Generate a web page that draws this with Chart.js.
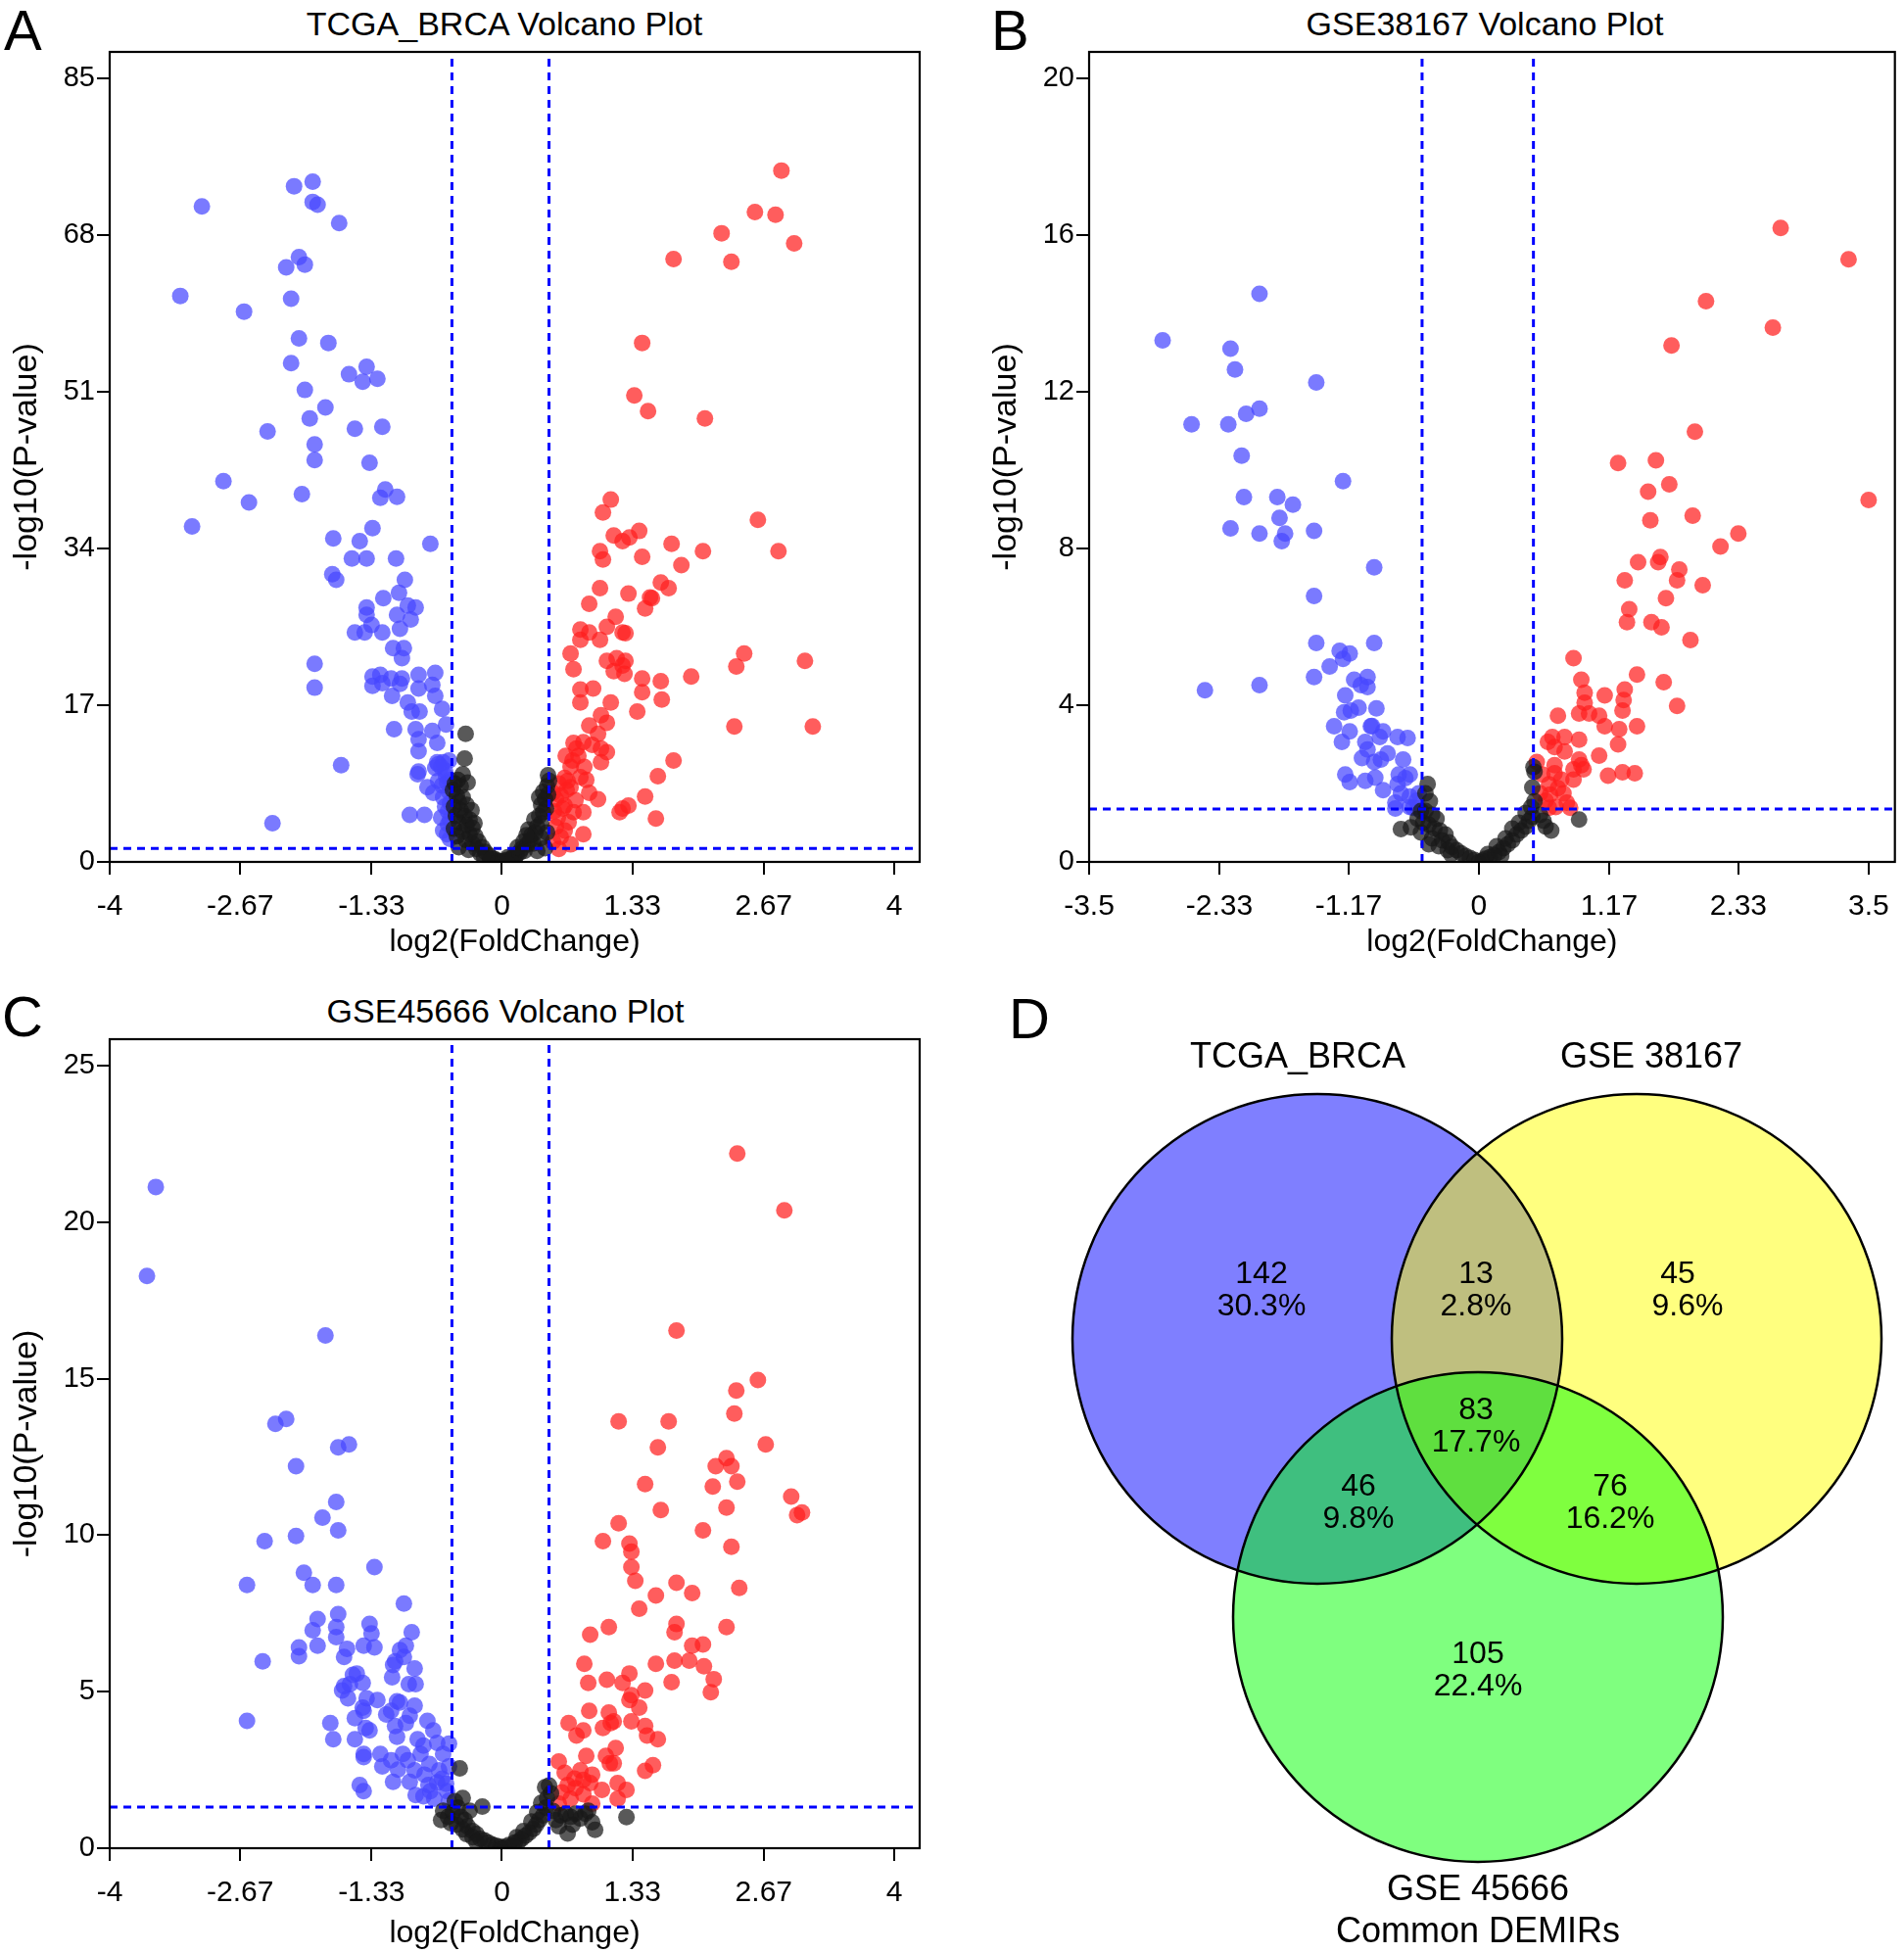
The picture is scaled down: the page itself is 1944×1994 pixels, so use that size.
<!DOCTYPE html>
<html><head><meta charset="utf-8">
<script src="https://cdn.jsdelivr.net/npm/chart.js@4/dist/chart.umd.min.js"></script>
<style>
html,body{margin:0;padding:0;background:#fff}
body{width:1944px;height:1994px;position:relative;overflow:hidden;font-family:"Liberation Sans",Arial,sans-serif;color:#000}
canvas{position:absolute;display:block}
.letter{position:absolute;font-size:58px;line-height:1;transform:translateY(-50%)}
.ttl{position:absolute;font-size:34px;line-height:1;white-space:nowrap;transform:translate(-50%,-50%)}
</style></head>
<body>
<div class="letter" style="left:4px;top:31px">A</div>
<div class="letter" style="left:1012px;top:31px">B</div>
<div class="letter" style="left:2px;top:1038px">C</div>
<div class="letter" style="left:1030px;top:1040px">D</div>
<div class="ttl" style="left:515px;top:24px">TCGA_BRCA Volcano Plot</div>
<div class="ttl" style="left:1516px;top:24px">GSE38167 Volcano Plot</div>
<div class="ttl" style="left:516px;top:1032px">GSE45666 Volcano Plot</div>
<canvas id="cA" width="972" height="1000" style="left:0;top:0"></canvas>
<canvas id="cB" width="972" height="1000" style="left:972px;top:0"></canvas>
<canvas id="cC" width="972" height="994" style="left:0;top:1000px"></canvas>
<canvas id="cD" width="972" height="994" style="left:972px;top:1000px"></canvas>
<script>
// ---------------- DATA ----------------
// Tick labels
const xTicksAC = [-4, -2.67, -1.33, 0, 1.33, 2.67, 4];
const xTicksB  = [-3.5, -2.33, -1.17, 0, 1.17, 2.33, 3.5];
const yTicksA  = [0, 17, 34, 51, 68, 85];
const yTicksB  = [0, 4, 8, 12, 16, 20];
const yTicksC  = [0, 5, 10, 15, 20, 25];
// Axis ranges [min,max]
const xRangeA = [-4, 4.26],   yRangeA = [0, 87.87];
const xRangeB = [-3.5, 3.736], yRangeB = [0, 20.675];
const xRangeC = [-4, 4.26],   yRangeC = [0, 25.84];
// Thresholds [log2FC low, log2FC high, -log10 P cut]
const cutA = [-0.51, 0.48, 1.45];
const cutB = [-0.51, 0.49, 1.35];
const cutC = [-0.51, 0.48, 1.31];

// TCGA_BRCA  [log2FC, -log10P]
const tcgaDown = [[-3.28,61.4],[-3.06,71.1],[-3.16,36.4],[-2.84,41.3],[-2.58,39.0],[-2.63,59.7],[-2.39,46.7],[-2.34,4.2],[-2.12,73.3],[-1.93,73.8],[-1.93,71.6],[-1.88,71.3],[-1.66,69.3],[-2.07,65.6],[-2.20,64.5],[-2.01,64.8],[-2.15,61.1],[-2.07,56.8],[-1.77,56.3],[-2.15,54.1],[-2.01,51.2],[-1.96,48.1],[-1.80,49.3],[-1.91,45.3],[-1.91,43.6],[-2.04,39.9],[-1.56,52.9],[-1.38,53.7],[-1.42,52.1],[-1.27,52.4],[-1.50,47.0],[-1.22,47.2],[-1.35,43.3],[-1.19,40.4],[-1.24,39.5],[-1.07,39.6],[-1.72,35.1],[-1.45,34.8],[-1.32,36.2],[-1.53,32.9],[-1.38,32.9],[-1.73,31.2],[-1.69,30.6],[-0.73,34.5],[-1.08,32.9],[-1.05,29.2],[-0.99,30.6],[-1.38,27.6],[-1.21,28.6],[-1.38,26.8],[-1.33,25.7],[-1.50,24.9],[-1.40,24.9],[-1.22,24.9],[-1.07,26.8],[-0.96,27.8],[-0.88,27.6],[-0.93,26.3],[-1.04,25.3],[-1.11,23.2],[-1.00,23.2],[-1.02,22.1],[-1.91,21.5],[-1.91,18.9],[-1.32,20.1],[-1.24,20.3],[-1.13,19.9],[-1.02,19.9],[-0.85,20.3],[-0.68,20.5],[-1.32,19.1],[-1.22,19.4],[-1.04,19.3],[-0.85,18.8],[-0.71,19.2],[-1.12,18.0],[-0.96,17.3],[-0.68,18.0],[-0.61,16.6],[-0.92,16.3],[-0.84,16.3],[-1.10,14.4],[-0.88,14.4],[-0.71,14.2],[-0.57,14.9],[-0.85,13.3],[-0.66,12.9],[-0.85,12.0],[-0.66,10.8],[-0.60,10.8],[-0.54,11.0],[-0.68,10.2],[-0.85,9.8],[-0.86,9.5],[-0.57,9.3],[-0.53,8.9],[-0.76,8.1],[-0.61,8.3],[-0.54,7.6],[-0.53,6.4],[-0.94,5.1],[-0.79,5.1],[-0.53,4.6],[-0.55,4.1],[-0.60,3.4],[-1.64,10.5],[-0.62,10.3],[-0.58,9.9],[-0.65,10.6],[-0.56,8.6],[-0.60,7.0],[-0.55,5.5],[-0.58,6.0],[-0.65,8.8],[-0.70,7.5],[-0.62,4.8],[-0.56,3.0],[-0.53,2.5]];
const tcgaUp = [[2.85,75.0],[2.58,70.5],[2.79,70.2],[2.98,67.1],[2.24,68.2],[2.34,65.1],[1.75,65.4],[1.43,56.3],[1.35,50.6],[1.49,48.9],[2.07,48.1],[1.11,39.3],[1.03,37.9],[2.61,37.1],[2.82,33.7],[1.14,35.4],[1.23,34.8],[1.30,35.2],[1.40,35.9],[1.00,33.7],[1.03,32.8],[1.43,33.1],[1.73,34.5],[2.05,33.7],[1.83,32.2],[1.00,29.7],[1.29,29.1],[1.62,30.3],[1.51,28.7],[1.70,29.7],[1.53,28.6],[1.46,27.5],[0.89,28.0],[1.16,26.6],[0.80,25.2],[0.89,24.9],[1.07,25.5],[0.80,24.1],[1.00,24.1],[1.23,24.9],[1.26,24.8],[0.70,22.6],[1.07,21.8],[1.17,22.1],[1.26,21.8],[2.47,22.6],[2.39,21.2],[3.09,21.8],[1.93,20.1],[0.73,20.9],[1.23,21.3],[1.14,20.7],[1.25,20.4],[1.43,19.9],[1.62,19.6],[0.80,18.7],[0.93,18.8],[1.43,18.4],[1.63,17.6],[0.80,17.3],[1.11,17.3],[1.38,16.3],[1.01,15.9],[0.89,14.8],[0.98,13.9],[1.07,15.1],[2.37,14.7],[3.17,14.7],[0.83,13.0],[0.73,12.9],[0.92,12.7],[1.01,12.3],[0.65,11.5],[0.78,11.5],[1.07,11.9],[1.75,11.0],[1.01,10.8],[0.84,10.3],[0.70,10.3],[0.64,9.1],[0.58,8.5],[0.70,8.1],[0.86,8.9],[0.89,7.5],[0.98,6.8],[1.59,9.3],[1.46,7.1],[1.29,6.1],[1.20,5.4],[1.23,5.8],[0.64,6.1],[0.73,5.4],[0.83,5.4],[0.64,3.4],[0.83,3.0],[0.70,1.9],[0.58,1.4],[1.57,4.7],[0.52,7.5],[0.55,6.8],[0.60,7.2],[0.53,5.5],[0.57,4.8],[0.62,5.8],[0.66,7.8],[0.55,3.8],[0.60,2.7],[0.68,4.3],[0.52,2.2],[0.75,6.7],[0.80,9.2],[0.67,8.8],[0.72,11.0],[0.76,12.3]];
const tcgaNs = [[-0.37,13.9],[-0.38,11.2],[-0.45,8.9],[-0.48,8.5],[-0.42,8.2],[-0.50,7.8],[-0.46,7.2],[-0.40,7.0],[-0.44,6.5],[-0.49,6.0],[-0.36,6.2],[-0.42,5.6],[-0.47,5.0],[-0.38,5.0],[-0.33,4.6],[-0.44,4.3],[-0.36,4.0],[-0.49,3.6],[-0.30,3.7],[-0.40,3.3],[-0.33,3.0],[-0.46,2.8],[-0.27,2.8],[-0.37,2.4],[-0.24,2.2],[-0.30,2.0],[-0.44,1.6],[-0.20,1.6],[-0.26,1.4],[-0.34,1.3],[-0.17,1.1],[-0.22,0.9],[-0.13,0.7],[-0.18,0.5],[-0.10,0.4],[-0.07,0.3],[-0.12,0.2],[-0.04,0.1],[-0.02,0.05],[0.00,0.0],[0.02,0.1],[0.05,0.2],[0.08,0.1],[0.10,0.4],[0.13,0.3],[0.06,0.5],[0.15,0.8],[0.12,0.6],[0.18,1.0],[0.20,1.4],[0.23,1.2],[0.16,1.6],[0.26,1.9],[0.22,2.2],[0.29,2.4],[0.32,2.0],[0.30,2.9],[0.34,3.2],[0.27,3.5],[0.36,3.8],[0.40,4.2],[0.33,4.6],[0.38,5.0],[0.42,5.4],[0.45,5.8],[0.40,6.2],[0.44,6.8],[0.47,7.3],[0.42,7.6],[0.46,8.2],[0.48,8.8],[0.47,9.4],[0.44,1.5],[0.36,1.2],[0.40,2.6],[0.46,3.2],[-0.35,8.6],[-0.40,9.5],[-0.31,5.6],[-0.28,4.2],[0.25,2.9],[0.38,7.0]];

// GSE38167
const gse38Down = [[-2.84,13.31],[-2.58,11.17],[-2.46,4.38],[-2.25,11.17],[-2.23,13.10],[-2.19,12.57],[-2.09,11.44],[-1.97,14.50],[-1.97,11.57],[-2.13,10.37],[-2.11,9.31],[-1.81,9.31],[-1.67,9.12],[-1.79,8.78],[-2.23,8.51],[-1.97,8.38],[-1.74,8.38],[-1.77,8.19],[-1.48,8.45],[-1.97,4.51],[-1.46,12.24],[-1.22,9.72],[-0.94,7.52],[-1.48,6.79],[-1.46,5.59],[-0.94,5.59],[-1.25,5.39],[-1.16,5.32],[-1.22,5.18],[-1.34,4.99],[-1.48,4.72],[-1.12,4.65],[-1.00,4.72],[-1.06,4.51],[-1.00,4.46],[-1.20,4.25],[-0.92,3.92],[-1.21,3.82],[-1.15,3.86],[-1.08,3.94],[-1.30,3.46],[-0.97,3.46],[-0.96,3.47],[-0.86,3.33],[-1.16,3.33],[-0.73,3.19],[-0.64,3.16],[-1.23,3.06],[-1.02,3.06],[-0.89,3.19],[-1.00,2.87],[-0.82,2.77],[-0.88,2.61],[-1.05,2.65],[-0.94,2.55],[-0.68,2.61],[-1.20,2.23],[-1.16,2.04],[-1.02,2.07],[-0.93,2.15],[-0.72,2.23],[-0.66,2.14],[-0.62,2.23],[-0.73,1.99],[-0.86,1.83],[-0.70,1.75],[-0.62,1.67],[-0.75,1.51],[-0.62,1.40],[-0.56,1.56],[-0.75,1.36],[-0.59,1.38],[-0.54,1.75],[-0.55,1.36]];
const gse38Up = [[2.71,16.18],[3.32,15.38],[2.04,14.31],[2.64,13.64],[1.73,13.18],[1.94,10.98],[1.25,10.18],[1.59,10.25],[1.71,9.64],[1.52,9.45],[3.50,9.24],[1.92,8.84],[1.54,8.72],[2.33,8.38],[2.17,8.05],[1.63,7.78],[1.61,7.65],[1.43,7.65],[1.80,7.46],[1.31,7.19],[1.78,7.19],[2.01,7.06],[1.68,6.73],[1.35,6.45],[1.33,6.12],[1.55,6.12],[1.64,5.99],[1.90,5.66],[0.85,5.20],[0.92,4.65],[1.42,4.78],[1.66,4.59],[1.13,4.25],[0.95,4.32],[1.31,4.40],[1.78,3.98],[0.95,4.06],[1.30,4.13],[0.90,3.79],[0.99,3.79],[1.08,3.73],[1.29,3.86],[0.71,3.73],[1.13,3.46],[1.26,3.39],[1.42,3.46],[0.66,3.19],[0.77,3.19],[0.90,3.12],[0.62,3.06],[0.68,2.93],[1.25,3.00],[0.77,2.82],[1.08,2.71],[0.90,2.61],[0.92,2.47],[0.52,2.55],[0.68,2.47],[0.85,2.36],[0.94,2.36],[1.16,2.20],[1.29,2.29],[1.40,2.26],[0.57,2.23],[0.68,2.26],[0.74,2.10],[0.85,2.10],[0.63,1.98],[0.71,1.88],[0.55,1.75],[0.64,1.72],[0.76,1.75],[0.60,1.56],[0.79,1.51],[0.69,1.40],[0.63,1.38],[0.82,1.38]];
const gse38Ns = [[-0.70,0.84],[-0.61,0.88],[-0.46,1.99],[-0.48,1.75],[-0.44,1.55],[-0.52,1.30],[-0.48,1.30],[-0.42,1.20],[-0.55,1.10],[-0.50,1.00],[-0.45,0.95],[-0.38,1.10],[-0.40,0.85],[-0.52,0.75],[-0.35,0.80],[-0.30,0.70],[-0.42,0.60],[-0.33,0.55],[-0.27,0.50],[-0.36,0.40],[-0.24,0.38],[-0.20,0.30],[-0.28,0.30],[-0.16,0.22],[-0.12,0.15],[-0.08,0.10],[-0.04,0.05],[0.00,0.00],[0.03,0.03],[0.06,0.08],[0.10,0.12],[0.14,0.18],[0.08,0.20],[0.18,0.25],[0.22,0.35],[0.16,0.40],[0.26,0.45],[0.30,0.55],[0.24,0.60],[0.34,0.70],[0.38,0.80],[0.30,0.85],[0.42,0.90],[0.45,1.05],[0.36,1.00],[0.48,1.15],[0.42,1.25],[0.47,1.40],[0.50,1.55],[0.49,2.42],[0.50,2.30],[0.48,1.90],[0.55,1.20],[0.60,0.90],[0.58,1.05],[0.65,0.80],[0.90,1.08],[-0.25,0.20],[0.20,0.15],[-0.45,0.45]];

// GSE45666
const gse45Down = [[-3.53,21.12],[-3.62,18.28],[-1.80,16.38],[-2.31,13.55],[-2.20,13.71],[-1.67,12.80],[-1.56,12.90],[-2.10,12.20],[-1.69,11.06],[-1.83,10.56],[-1.67,10.15],[-2.42,9.81],[-2.10,9.97],[-1.30,8.98],[-2.02,8.80],[-2.60,8.41],[-1.93,8.41],[-1.69,8.41],[-1.00,7.81],[-1.67,7.48],[-1.88,7.32],[-1.35,7.16],[-1.69,7.06],[-1.93,6.96],[-1.33,6.86],[-0.92,6.90],[-1.69,6.74],[-2.07,6.41],[-1.88,6.47],[-1.58,6.37],[-1.41,6.47],[-1.30,6.41],[-0.98,6.47],[-1.04,6.33],[-2.07,6.13],[-1.61,6.11],[-1.00,6.11],[-2.44,5.97],[-1.09,5.97],[-1.11,5.85],[-0.89,5.74],[-1.48,5.58],[-1.52,5.54],[-1.42,5.28],[-1.61,5.18],[-1.55,5.24],[-1.12,5.46],[-0.95,5.24],[-0.88,5.24],[-1.63,5.04],[-1.57,4.79],[-1.38,4.79],[-1.27,4.73],[-1.04,4.65],[-1.07,4.69],[-0.89,4.55],[-1.42,4.49],[-1.50,4.15],[-1.41,4.39],[-1.18,4.27],[-1.13,4.39],[-0.94,4.23],[-2.60,4.07],[-1.75,4.00],[-1.39,3.84],[-1.09,3.90],[-0.98,4.00],[-0.76,4.07],[-1.35,3.76],[-0.70,3.76],[-1.07,3.56],[-1.72,3.48],[-1.50,3.48],[-0.86,3.48],[-0.54,3.34],[-0.80,3.28],[-0.66,3.36],[-1.41,3.01],[-1.24,3.01],[-1.01,3.01],[-0.83,3.01],[-0.60,3.01],[-1.41,2.91],[-1.13,2.81],[-0.96,2.81],[-0.74,2.69],[-1.22,2.61],[-1.06,2.51],[-0.89,2.49],[-0.64,2.49],[-0.54,2.61],[-0.79,2.35],[-0.94,2.12],[-1.11,2.12],[-0.66,2.10],[-1.45,2.02],[-0.75,2.02],[-0.57,2.06],[-1.41,1.82],[-0.88,1.70],[-0.73,1.82],[-0.56,1.82],[-0.69,1.58],[-0.54,1.52],[-0.61,2.22],[-0.80,1.66]];
const gse45Up = [[2.40,22.19],[2.88,20.37],[1.78,16.53],[2.61,14.95],[2.39,14.62],[2.37,13.88],[1.19,13.63],[1.70,13.63],[1.59,12.80],[2.69,12.90],[2.29,12.46],[2.18,12.20],[2.34,12.20],[1.46,11.63],[2.15,11.55],[2.40,11.71],[2.95,11.23],[2.29,10.88],[1.62,10.80],[3.06,10.72],[3.01,10.64],[1.19,10.38],[2.05,10.15],[1.03,9.81],[1.30,9.73],[1.32,9.47],[2.34,9.63],[1.32,8.98],[1.36,8.54],[1.78,8.48],[2.42,8.31],[1.57,8.07],[1.94,8.15],[1.40,7.65],[1.09,7.06],[1.78,7.16],[2.29,7.06],[0.90,6.82],[1.76,6.90],[1.94,6.47],[2.05,6.51],[1.76,5.99],[1.91,5.99],[0.84,5.89],[1.57,5.89],[2.06,5.81],[1.30,5.58],[1.07,5.38],[0.88,5.28],[1.23,5.28],[1.73,5.30],[2.16,5.40],[1.46,5.04],[1.32,4.89],[2.13,4.98],[1.30,4.73],[1.40,4.49],[0.89,4.39],[1.09,4.33],[0.68,4.00],[1.32,4.05],[1.14,4.05],[1.03,3.84],[0.83,3.76],[1.46,3.90],[1.11,4.00],[0.76,3.60],[1.48,3.60],[1.59,3.48],[1.16,3.20],[0.58,2.77],[0.86,2.95],[1.06,2.95],[1.10,2.71],[1.14,2.71],[1.54,2.65],[1.46,2.47],[0.64,2.41],[0.80,2.49],[0.92,2.35],[0.74,2.22],[0.83,2.18],[0.90,2.08],[1.18,2.08],[0.67,2.02],[0.75,1.92],[1.02,1.86],[1.27,1.86],[0.61,1.78],[0.83,1.72],[0.70,1.58],[1.18,1.58],[0.58,1.42],[0.92,1.42]];
const gse45Ns = [[-0.43,2.55],[-0.20,1.33],[1.27,0.99],[0.92,0.83],[0.95,0.59],[0.67,0.47],[0.52,1.19],[-0.55,1.00],[-0.60,1.20],[-0.52,0.80],[-0.48,1.50],[-0.45,1.30],[-0.50,1.15],[-0.42,1.00],[-0.38,0.90],[-0.46,0.75],[-0.35,0.70],[-0.40,0.60],[-0.30,0.55],[-0.36,0.45],[-0.26,0.45],[-0.30,0.35],[-0.22,0.30],[-0.18,0.25],[-0.26,0.20],[-0.14,0.18],[-0.10,0.12],[-0.06,0.08],[-0.02,0.05],[0.00,0.00],[0.03,0.04],[0.07,0.10],[0.10,0.08],[0.13,0.18],[0.17,0.22],[0.20,0.30],[0.15,0.35],[0.24,0.40],[0.28,0.50],[0.22,0.55],[0.32,0.62],[0.35,0.75],[0.30,0.85],[0.38,0.90],[0.42,1.05],[0.36,1.15],[0.45,1.30],[0.40,1.45],[0.46,1.60],[0.50,1.75],[0.44,1.95],[0.48,2.00],[0.55,0.90],[0.60,1.05],[0.65,1.10],[0.70,1.00],[0.75,1.10],[0.80,0.95],[0.85,1.10],[0.58,0.70],[0.72,0.75],[0.88,1.20],[-0.62,0.90],[-0.40,1.60],[-0.33,1.20]];

// Venn diagram
const vennSetNames = ['TCGA_BRCA', 'GSE 38167', 'GSE 45666'];
const vennFooter = 'Common DEMIRs';
const vennCounts   = ['142', '13', '45', '83', '46', '76', '105'];
const vennPercents = ['30.3%', '2.8%', '9.6%', '17.7%', '9.8%', '16.2%', '22.4%'];
// diagram geometry (diagram units)
const vennCircleX = [1345, 1671, 1509];
const vennCircleY = [1367, 1367, 1651];
const vennCircleR = 250;
const vennRegionX = [1288, 1507, 1713, 1507, 1387, 1644, 1509];
const vennRegionY = [1301, 1301, 1301, 1440, 1518, 1518, 1689];
const vennPctShiftX = [0, 0, 10, 0, 0, 0, 0];
const vennNameX = [1325, 1686, 1509, 1509];
const vennNameY = [1080, 1080, 1930, 1973];

// ---------------- RENDER ----------------
Chart.defaults.font.family = '"Liberation Sans", Arial, sans-serif';
Chart.defaults.color = '#000';
const FONT = '"Liberation Sans", Arial, sans-serif';
const toPts = a => a.map(p => ({x: p[0], y: p[1]}));

const framePlugin = {
  id: 'frame',
  afterDraw(chart) {
    const {ctx, chartArea: a} = chart;
    ctx.save();
    ctx.strokeStyle = '#000';
    ctx.lineWidth = 2.2;
    ctx.strokeRect(a.left, a.top, a.right - a.left, a.bottom - a.top);
    ctx.restore();
  }
};

function volcano(id, p) {
  const dot = (data, color) => ({data: toPts(data), backgroundColor: color, borderWidth: 0, pointRadius: 8.5, order: 2});
  const dash = (pts) => ({data: pts, showLine: true, pointRadius: 0, borderColor: '#0000ff', borderWidth: 3, borderDash: [8, 6], order: 1, fill: false});
  new Chart(document.getElementById(id), {
    type: 'scatter',
    data: {datasets: [
      dot(p.ns, 'rgba(25,25,25,0.72)'),
      dot(p.down, 'rgba(70,70,255,0.72)'),
      dot(p.up, 'rgba(255,30,30,0.72)'),
      dash([{x: p.cut[0], y: p.yr[0]}, {x: p.cut[0], y: p.yr[1]}]),
      dash([{x: p.cut[1], y: p.yr[0]}, {x: p.cut[1], y: p.yr[1]}]),
      dash([{x: p.xr[0], y: p.cut[2]}, {x: p.xr[1], y: p.cut[2]}])
    ]},
    options: {
      responsive: false, animation: false, events: [],
      layout: {padding: {left: 0, right: p.padR, top: p.padT, bottom: 0}},
      plugins: {legend: {display: false}, tooltip: {enabled: false}, title: {display: false}},
      scales: {
        x: {
          type: 'linear', min: p.xr[0], max: p.xr[1],
          afterBuildTicks: s => { s.ticks = p.xt.map(v => ({value: v})); },
          afterFit: s => { s.height = p.axH; },
          ticks: {callback: v => String(v), font: {size: 30}, padding: 15, maxRotation: 0, autoSkip: false, color: '#000'},
          grid: {display: true, drawOnChartArea: false, drawTicks: true, tickLength: 13, lineWidth: 2, color: '#000'},
          border: {display: false},
          title: {display: true, text: 'log2(FoldChange)', font: {size: 32}, padding: {top: 0, bottom: p.xTitlePad}, color: '#000'}
        },
        y: {
          type: 'linear', min: p.yr[0], max: p.yr[1],
          afterBuildTicks: s => { s.ticks = p.yt.map(v => ({value: v})); },
          afterFit: s => { s.width = p.axW; },
          ticks: {callback: v => String(v), font: {size: 29}, padding: 2, autoSkip: false, color: '#000'},
          grid: {display: true, drawOnChartArea: false, drawTicks: true, tickLength: 13, lineWidth: 2, color: '#000'},
          border: {display: false},
          title: {display: true, text: '-log10(P-value)', font: {size: 34}, padding: {top: p.yTitlePad, bottom: 0}, color: '#000'}
        }
      }
    },
    plugins: [framePlugin]
  });
}

volcano('cA', {down: tcgaDown, up: tcgaUp, ns: tcgaNs, cut: cutA, xr: xRangeA, yr: yRangeA, xt: xTicksAC, yt: yTicksA,
  padR: 33, padT: 53, axH: 120, axW: 112, xTitlePad: 19, yTitlePad: 7});
volcano('cB', {down: gse38Down, up: gse38Up, ns: gse38Ns, cut: cutB, xr: xRangeB, yr: yRangeB, xt: xTicksB, yt: yTicksB,
  padR: 4, padT: 53, axH: 120, axW: 140, xTitlePad: 19, yTitlePad: 35});
volcano('cC', {down: gse45Down, up: gse45Up, ns: gse45Ns, cut: cutC, xr: xRangeC, yr: yRangeC, xt: xTicksAC, yt: yTicksC,
  padR: 33, padT: 61, axH: 107, axW: 112, xTitlePad: 1, yTitlePad: 7});

// Venn: bubble chart; layout padding leaves room for the bubble overflow,
// scale ranges are set so one diagram unit equals one pixel.
const VPAD = 256;
const vennCanvas = document.getElementById('cD');
const vennLeft = 972, vennTop = 1000;
const vennTextPlugin = {
  id: 'vennText',
  afterDraw(chart) {
    const {ctx} = chart, sx = chart.scales.x, sy = chart.scales.y;
    ctx.save();
    ctx.fillStyle = '#000';
    ctx.textAlign = 'center';
    ctx.textBaseline = 'middle';
    ctx.font = '32px ' + FONT;
    vennCounts.forEach((c, i) => {
      ctx.fillText(c, sx.getPixelForValue(vennRegionX[i]), sy.getPixelForValue(vennRegionY[i]));
      ctx.fillText(vennPercents[i], sx.getPixelForValue(vennRegionX[i] + vennPctShiftX[i]), sy.getPixelForValue(vennRegionY[i] + 33));
    });
    ctx.font = '36px ' + FONT;
    [...vennSetNames, vennFooter].forEach((t, i) => {
      ctx.fillText(t, sx.getPixelForValue(vennNameX[i]), sy.getPixelForValue(vennNameY[i]));
    });
    ctx.restore();
  }
};
const circles = vennCircleX.map((x, i) => ({x: x, y: vennCircleY[i], r: vennCircleR}));
new Chart(vennCanvas, {
  type: 'bubble',
  data: {datasets: [
    {data: circles, backgroundColor: 'rgba(0,0,0,0)', borderColor: '#000', borderWidth: 2.5, order: 1, clip: false},
    {data: circles, backgroundColor: ['rgba(0,0,255,0.5)', 'rgba(255,255,0,0.5)', 'rgba(0,255,0,0.5)'], borderWidth: 0, order: 2, clip: false}
  ]},
  options: {
    responsive: false, animation: false, events: [],
    layout: {padding: VPAD},
    plugins: {legend: {display: false}, tooltip: {enabled: false}},
    scales: {
      x: {type: 'linear', min: vennLeft + VPAD, max: vennLeft + vennCanvas.width - VPAD, display: false},
      y: {type: 'linear', min: vennTop + VPAD, max: vennTop + vennCanvas.height - VPAD, reverse: true, display: false}
    }
  },
  plugins: [vennTextPlugin]
});
</script>
</body></html>
